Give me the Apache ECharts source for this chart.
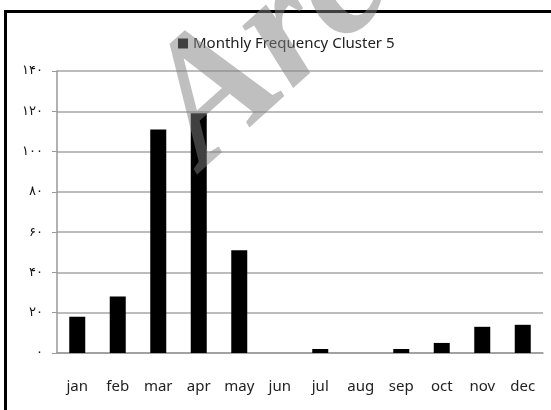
<!DOCTYPE html>
<html>
<head>
<meta charset="utf-8">
<style>
  html, body { margin: 0; padding: 0; background: #fff; }
  #chart { width: 551px; height: 410px; }
</style>
<script src="https://cdn.jsdelivr.net/npm/echarts@6/dist/echarts.min.js"></script>
</head>
<body>
<div id="chart"></div>
<script>
// months and counts
var months = ['jan', 'feb', 'mar', 'apr', 'may', 'jun', 'jul', 'aug', 'sep', 'oct', 'nov', 'dec'];
var counts = [18, 28, 111, 119, 51, 0, 2, 0, 2, 5, 13, 14];
// y tick labels in Persian digits, 0..140 step 20
var yTickLabels = ['۰', '۲۰', '۴۰', '۶۰', '۸۰', '۱۰۰', '۱۲۰', '۱۴۰'];

var chart = echarts.init(document.getElementById('chart'));

var option = {
  backgroundColor: '#fff',
  animation: false,
  legend: {
    left: 173,
    top: 31,
    icon: 'rect',
    itemWidth: 10,
    itemHeight: 10,
    itemGap: 3,
    textStyle: { fontFamily: 'Noto Sans', fontSize: 15, color: '#222' },
    data: ['Monthly Frequency Cluster 5']
  },
  grid: { left: 57, right: 8, top: 71, bottom: 57 },
  xAxis: {
    type: 'category',
    data: months,
    axisLine: { lineStyle: { color: '#999', width: 1.5 } },
    axisTick: { length: 5, lineStyle: { color: '#999' } },
    axisLabel: { margin: 26, fontFamily: 'Noto Sans', fontSize: 15, color: '#222' }
  },
  yAxis: {
    type: 'value',
    min: 0,
    max: 140,
    interval: 20,
    axisLine: { show: true, lineStyle: { color: '#999', width: 1.5 } },
    axisTick: { show: true, length: 5, lineStyle: { color: '#999' } },
    splitLine: { lineStyle: { color: '#a6a6a6', width: 1.5 } },
    axisLabel: {
      margin: 14,
      fontFamily: 'DejaVu Sans',
      fontSize: 13,
      color: '#111',
      formatter: function (v) { return yTickLabels[Math.round(v / 20)]; }
    }
  },
  series: [{
    name: 'Monthly Frequency Cluster 5',
    type: 'bar',
    data: counts,
    barWidth: 16,
    itemStyle: { color: '#000' }
  }],
  graphic: [
    {
      type: 'rect',
      shape: { x: 5.5, y: 11.5, width: 700, height: 600 },
      style: { fill: 'none', stroke: '#000', lineWidth: 3 },
      silent: true
    },
    {
      // watermark
      type: 'text',
      x: 115, y: 70,
      rotation: 42 * Math.PI / 180,
      z: 100,
      style: {
        text: 'Arc',
        fontFamily: 'Liberation Serif',
        fontStyle: 'italic',
        fontWeight: 'bold',
        fontSize: 175,
        fill: 'rgba(128,128,128,0.5)'
      },
      silent: true
    }
  ]
};

chart.setOption(option);
</script>
</body>
</html>
